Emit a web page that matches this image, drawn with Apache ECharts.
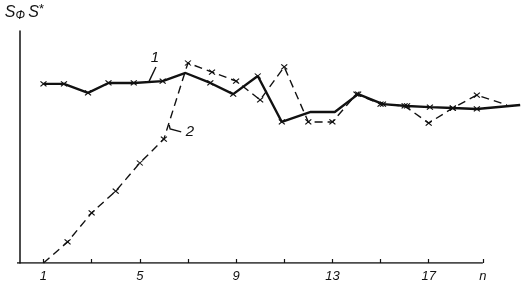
<!DOCTYPE html>
<html><head><meta charset="utf-8">
<script src="https://cdn.jsdelivr.net/npm/echarts@6/dist/echarts.min.js"></script>
<style>html,body{margin:0;padding:0;background:#fff}#c{width:529px;height:289px}</style>
</head><body><div id="c"></div>
<script>
// curve 1 (solid): positions n and values (relative units, 0..100 of axis height)
const nSolid   = [1, 1.85, 2.85, 3.7, 4.75, 5.95, 6.9, 7.93, 8.88, 9.9, 10.9, 12.1, 13.1, 14.07, 15.1, 16.1, 17.05, 18.0, 19.0, 20.8];
const sSolid   = [77.2, 77.2, 73.3, 77.6, 77.6, 78.4, 81.9, 77.6, 72.8, 80.6, 60.8, 65.1, 65.1, 72.8, 68.5, 67.7, 67.2, 66.8, 66.4, 68.1];
const markSolid= [1,1,1,1,1,1,0,1,1,1,1,0,0,1,1,1,1,1,1,0];
// curve 2 (dashed)
const nDashed   = [1, 2, 3, 4, 5, 6, 7, 8, 9, 10, 11, 12, 13, 14, 15, 16, 17, 18, 19, 20.25];
const sDashed   = [0, 9.1, 21.6, 31.0, 43.1, 53.4, 86.2, 82.3, 78.4, 70.3, 84.5, 60.8, 60.8, 72.8, 68.5, 67.7, 60.3, 66.8, 72.4, 68.1];
const markDashed= [0,1,1,1,1,1,1,1,1,1,1,1,1,1,1,1,1,1,1,0];
// axis ticks / labels
const xStart = -0.1, xEnd = 19.25;
const xTicks  = [1, 3, 5, 7, 9, 11, 13, 15, 17, 19.25];
const xLabels = [1, 5, 9, 13, 17, 19.25];
const xLabelText = ['1', '5', '9', '13', '17', 'n'];

const cross = 'path://M0,0L10,10M10,0L0,10';
function build(ns, vs, marks) {
  return ns.map((n, i) => ({
    value: [n, vs[i]],
    symbol: marks[i] ? cross : 'none'
  }));
}
const chart = echarts.init(document.getElementById('c'), null, {renderer: 'canvas'});
const font = '"Liberation Sans", "DejaVu Sans", sans-serif';
chart.setOption({
  animation: false,
  backgroundColor: '#fff',
  grid: {left: 17, right: 4, top: 31, bottom: 26, containLabel: false},
  xAxis: {
    type: 'value', min: xStart, max: 21,
    splitLine: {show: false},
    axisLine: {show: false},
    axisTick: {show: true, inside: true, length: 4, customValues: xTicks, lineStyle: {color: '#111', width: 1.2}},
    axisLabel: {
      show: true, customValues: xLabels, margin: 7,
      fontFamily: font, fontStyle: 'italic', fontSize: 13, color: '#111',
      formatter: v => { const i = xLabels.indexOf(v); return i >= 0 ? xLabelText[i] : ''; }
    }
  },
  yAxis: {
    type: 'value', min: 0, max: 100,
    splitLine: {show: false},
    axisLine: {show: true, lineStyle: {color: '#111', width: 1.5}},
    axisTick: {show: false},
    axisLabel: {show: false},
    name: '{s|S}{sub|Ф} {s|S}{sup|*}',
    nameGap: 9,
    nameLocation: 'end',
    nameTextStyle: {
      align: 'center', padding: [0, 0, 0, 10],
      rich: {
        s: {fontFamily: font, fontStyle: 'italic', fontSize: 16, color: '#111'},
        sub: {fontFamily: font, fontStyle: 'italic', fontSize: 12, color: '#111', padding: [6, 0, 0, 0]},
        sup: {fontFamily: font, fontSize: 13, color: '#111', padding: [0, 0, 6, 0]}
      }
    }
  },
  series: [
    {
      type: 'line', name: 'axis', silent: true, symbol: 'none',
      data: [[xStart, 0], [xEnd, 0]],
      lineStyle: {color: '#111', width: 1.5}, z: 1
    },
    {
      type: 'line', name: '1', clip: false,
      data: build(nSolid, sSolid, markSolid),
      symbolSize: [6, 5],
      itemStyle: {color: 'none', borderColor: '#111', borderWidth: 1.1},
      lineStyle: {color: '#111', width: 2.4},
      z: 3
    },
    {
      type: 'line', name: '2', clip: false,
      data: build(nDashed, sDashed, markDashed),
      symbolSize: [6, 5],
      itemStyle: {color: 'none', borderColor: '#111', borderWidth: 1.1},
      lineStyle: {color: '#111', width: 1.4, type: [8, 5]},
      z: 2
    }
  ]
});
// curve annotations "1" and "2" with leader strokes, positioned via data coordinates
const p = (x, y) => chart.convertToPixel({gridIndex: 0}, [x, y]);
const t1 = p(5.63, 88.4), l1a = p(5.67, 84.5), l1b = p(5.39, 78.4);
const t2 = p(7.08, 56.5), l2a = p(6.22, 59.5), l2b = p(6.26, 57.8), l2c = p(6.72, 56.5);
chart.setOption({
  graphic: [
    {type: 'text', x: t1[0], y: t1[1], style: {text: '1', font: 'italic 15px "Liberation Sans"', fill: '#111', align: 'center', verticalAlign: 'middle'}},
    {type: 'polyline', shape: {points: [l1a, l1b]}, style: {stroke: '#111', lineWidth: 1.4}},
    {type: 'text', x: t2[0], y: t2[1], style: {text: '2', font: 'italic 15px "Liberation Sans"', fill: '#111', align: 'center', verticalAlign: 'middle'}},
    {type: 'polyline', shape: {points: [l2a, l2b, l2c]}, style: {stroke: '#111', lineWidth: 1.4, fill: null}}
  ]
});
</script>
</body></html>
